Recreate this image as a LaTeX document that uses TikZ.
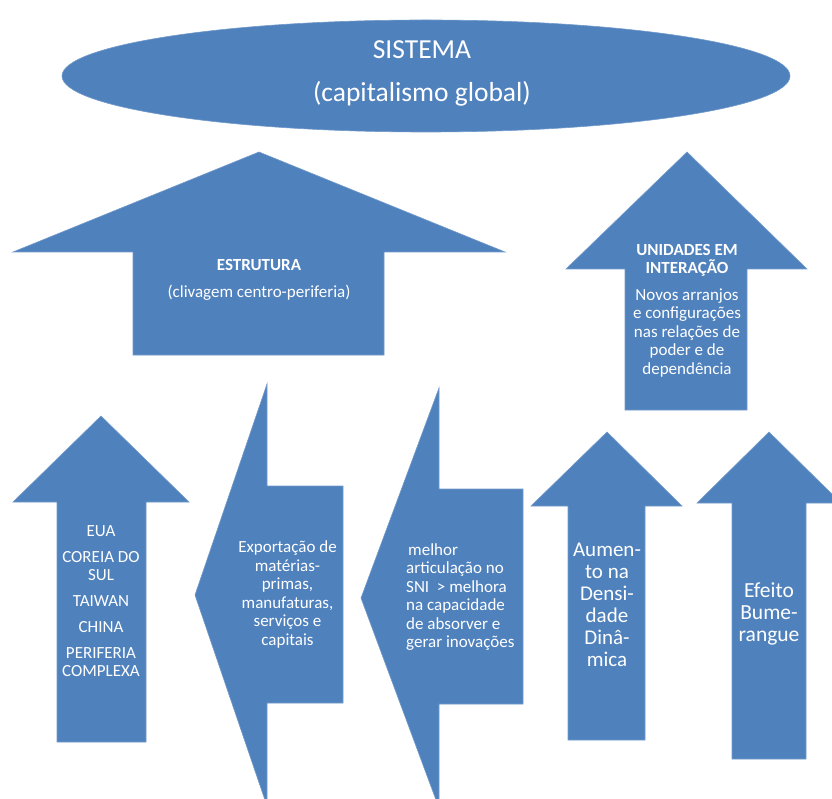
\documentclass[tikz,border=0pt]{standalone}
\usepackage{fontspec}
\setmainfont{Carlito}
\definecolor{blu}{HTML}{4F81BD}
\begin{document}
\begin{tikzpicture}[x=1pt,y=-1pt,
  shp/.style={fill=blu,draw=blu!80!white,line width=0.6pt},
  txt/.style={text=white,align=center,inner sep=0pt},
  fs/.style 2 args={font=\fontsize{#1}{#2}\selectfont}]
\useasboundingbox (0,0) rectangle (832,799);
\clip (0,0) rectangle (832,799);
% system ellipse
\path[shp] (426,76) ellipse [x radius=364, y radius=56];
\node[txt,fs={27.5}{43}] (sis) at (422,73.5) {SISTEMA\\(capitalismo global)};
% estrutura arrow
\path[shp] (259,152) -- (505,252) -- (384,252) -- (384,355) -- (133,355) -- (133,252) -- (13,252) -- cycle;
\node[txt,fs={17}{27}] (est) at (259,279.5) {\textbf{ESTRUTURA}\\(clivagem centro-periferia)};
% unidades arrow
\path[shp] (687,152) -- (807,269) -- (747,269) -- (747,410) -- (625,410) -- (625,269) -- (566,269) -- cycle;
\node[txt,fs={17}{17.5}] (uni) at (687,260.5) {\textbf{UNIDADES EM}\\\textbf{INTERAÇÃO}};
\node[txt,fs={17}{18.5}] (uni2) at (687,333) {Novos arranjos\\e configurações\\nas relações de\\poder e de\\dependência};
% EUA arrow
\path[shp] (101,416) -- (189,502) -- (146,502) -- (146,742) -- (57,742) -- (57,502) -- (13,502) -- cycle;
\node[txt,fs={17}{18.5}] (eua) at (101,601) {EUA\\[7.5pt]COREIA DO\\SUL\\[7.5pt]TAIWAN\\[7.5pt]CHINA\\[7pt]PERIFERIA\\COMPLEXA};
% exportacao arrow (left)
\path[shp] (195,595) -- (267,384) -- (267,486) -- (343,486) -- (343,703) -- (267,703) -- (267,806) -- cycle;
\node[txt,fs={17}{18.6}] (exp) at (287.5,594.5) {Exportação de\\matérias-\\primas,\\manufaturas,\\serviços e\\capitais};
% melhor arrow (left)
\path[shp] (361,598) -- (439,388) -- (439,489) -- (523,489) -- (523,704) -- (439,704) -- (439,808) -- cycle;
\node[txt,fs={17}{18.4},align=left,anchor=west] (sni) at (406,597) {\hspace{2pt}melhor\\articulação no\\SNI~ > melhora\\na capacidade\\de absorver e\\gerar inovações};
% aumento arrow
\path[shp] (607,432) -- (682,506) -- (645,506) -- (645,740) -- (568,740) -- (568,506) -- (531,506) -- cycle;
\node[txt,fs={21}{22}] (aum) at (607,605) {Aumen-\\to na\\Densi-\\dade\\Dinâ-\\mica};
% efeito arrow
\path[shp] (769,432) -- (841,503) -- (806,503) -- (806,759) -- (732,759) -- (732,503) -- (697,503) -- cycle;
\node[txt,fs={21.5}{22}] (efe) at (769,614) {Efeito\\Bume-\\rangue};
\end{tikzpicture}
\end{document}
